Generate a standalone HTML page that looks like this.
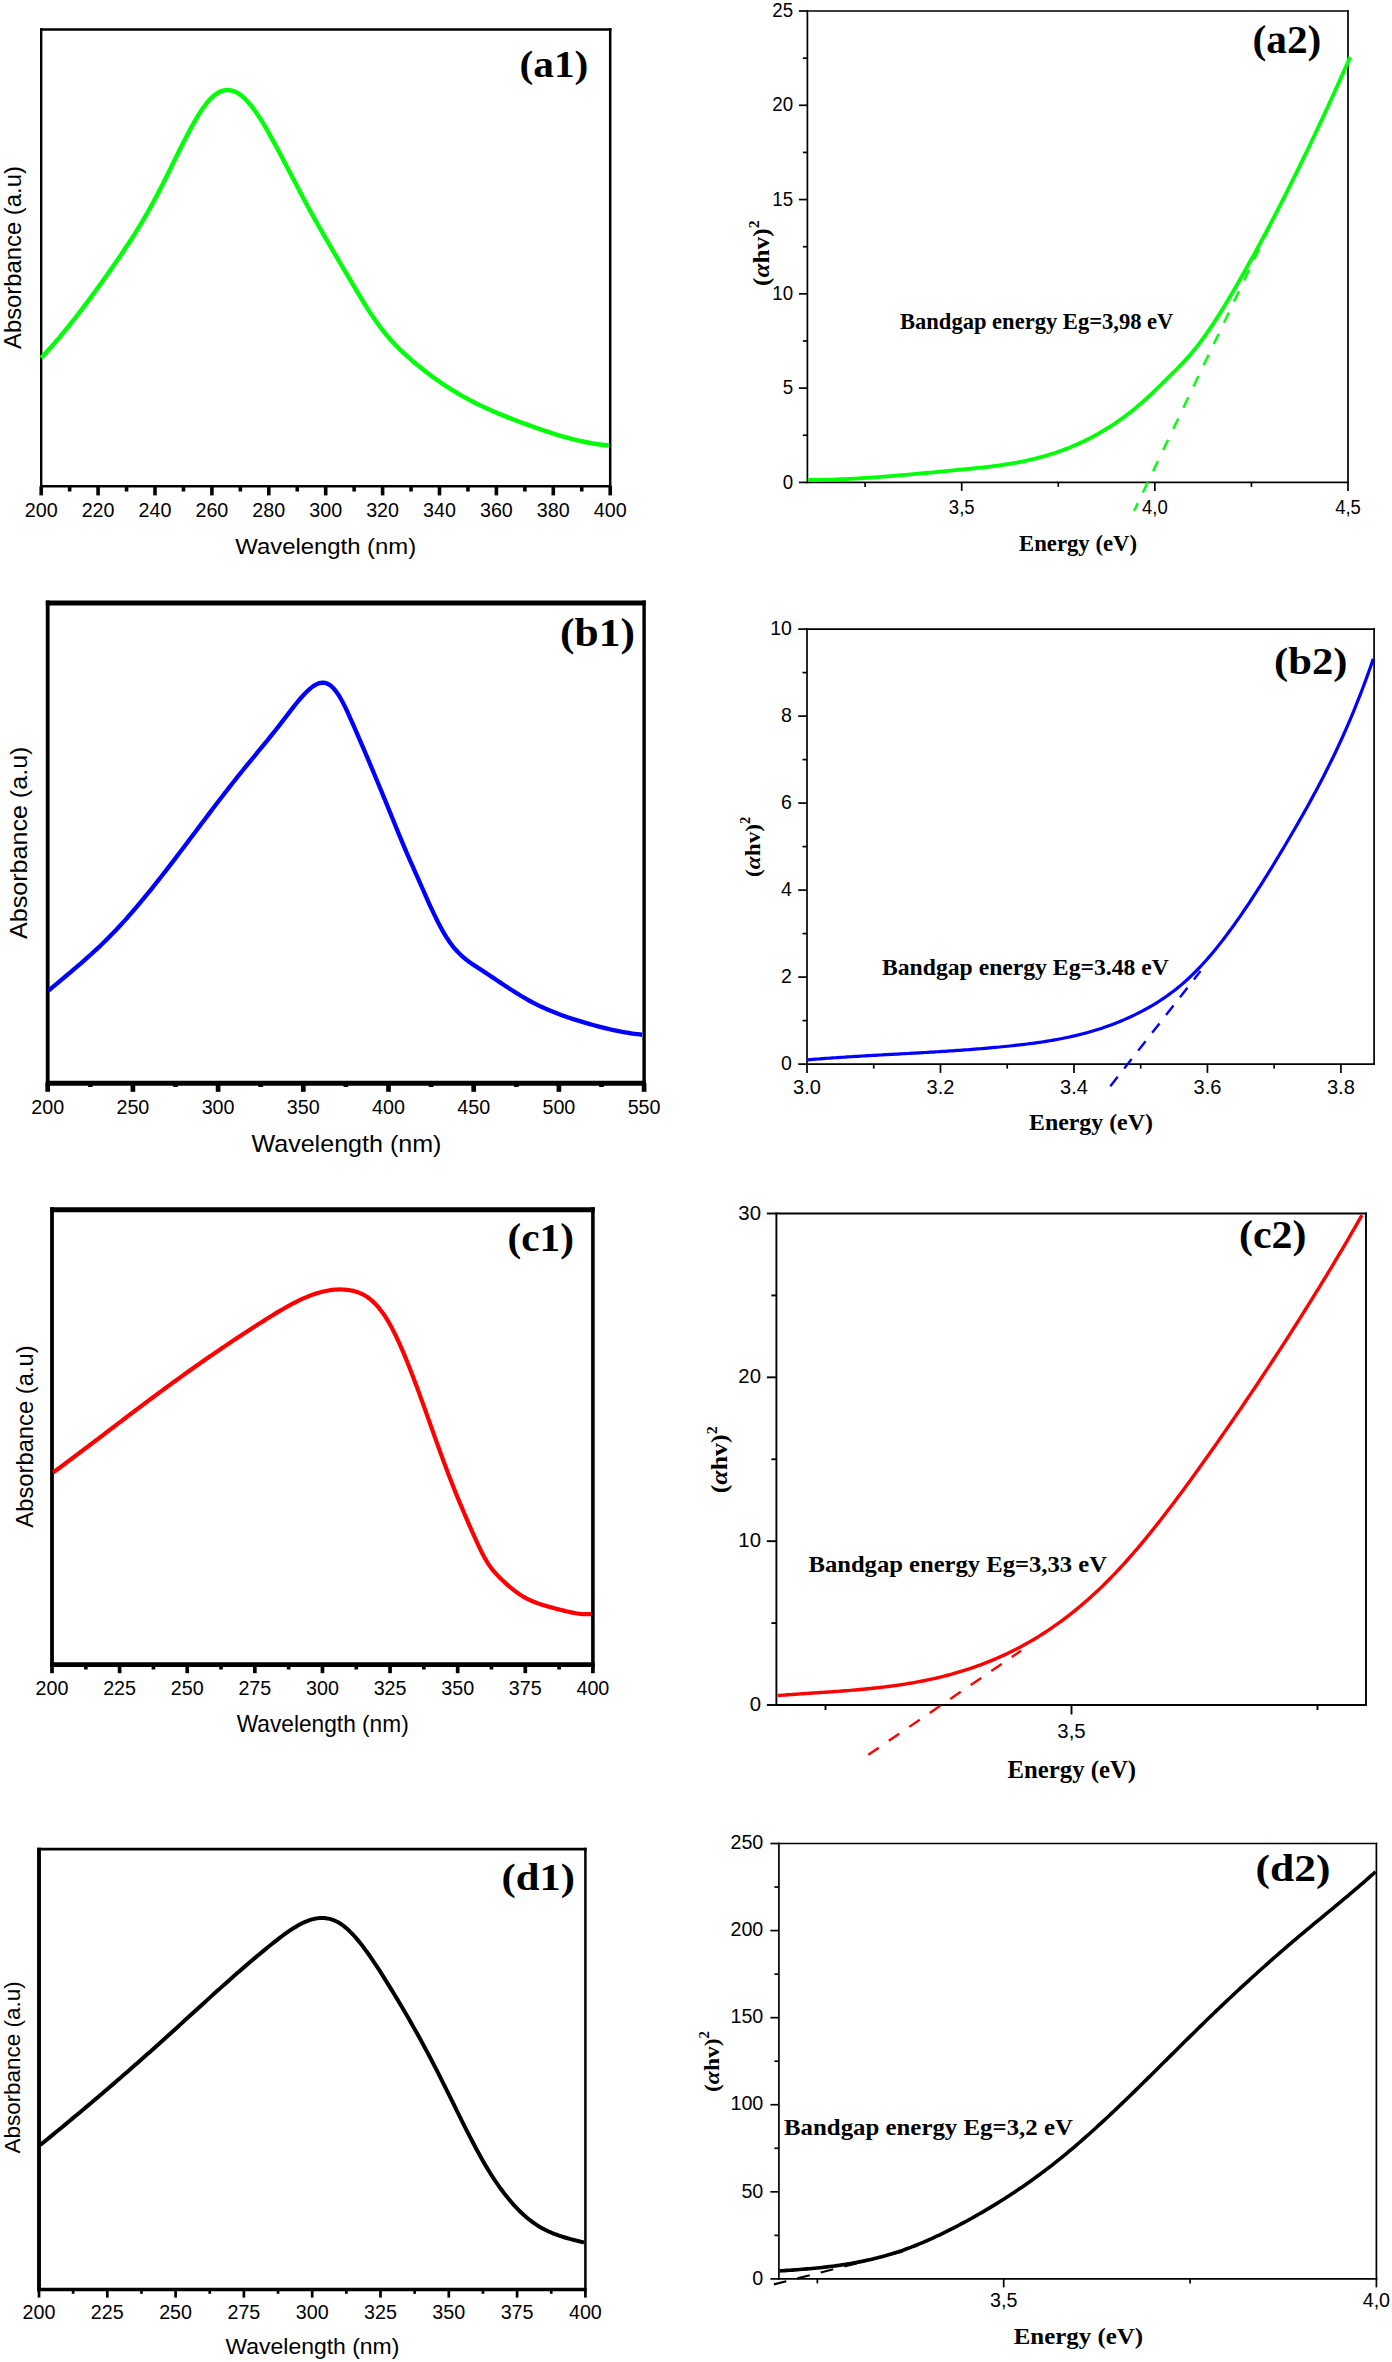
<!DOCTYPE html>
<html><head><meta charset="utf-8"><title>UV-Vis absorbance and Tauc plots</title>
<style>html,body{margin:0;padding:0;background:#fff;}svg{display:block;}</style>
</head><body>
<svg xmlns="http://www.w3.org/2000/svg" width="1392" height="2362" viewBox="0 0 1392 2362">
<rect width="1392" height="2362" fill="#fff"/>
<line x1="41.2" y1="28.15" x2="41.2" y2="487.55" stroke="#000" stroke-width="2.4" stroke-linecap="butt" />
<line x1="610.2" y1="28.15" x2="610.2" y2="487.55" stroke="#000" stroke-width="2.5" stroke-linecap="butt" />
<line x1="40" y1="29.4" x2="611.45" y2="29.4" stroke="#000" stroke-width="2.5" stroke-linecap="butt" />
<line x1="40" y1="486.3" x2="611.45" y2="486.3" stroke="#000" stroke-width="2.5" stroke-linecap="butt" />
<line x1="41.2" y1="486.3" x2="41.2" y2="495.4" stroke="#000" stroke-width="3.6" stroke-linecap="butt" />
<text x="41.2" y="517" font-size="19.7" font-family='"Liberation Sans", sans-serif' text-anchor="middle" >200</text>
<line x1="98.1" y1="486.3" x2="98.1" y2="495.4" stroke="#000" stroke-width="3.6" stroke-linecap="butt" />
<text x="98.1" y="517" font-size="19.7" font-family='"Liberation Sans", sans-serif' text-anchor="middle" >220</text>
<line x1="155" y1="486.3" x2="155" y2="495.4" stroke="#000" stroke-width="3.6" stroke-linecap="butt" />
<text x="155" y="517" font-size="19.7" font-family='"Liberation Sans", sans-serif' text-anchor="middle" >240</text>
<line x1="211.9" y1="486.3" x2="211.9" y2="495.4" stroke="#000" stroke-width="3.6" stroke-linecap="butt" />
<text x="211.9" y="517" font-size="19.7" font-family='"Liberation Sans", sans-serif' text-anchor="middle" >260</text>
<line x1="268.8" y1="486.3" x2="268.8" y2="495.4" stroke="#000" stroke-width="3.6" stroke-linecap="butt" />
<text x="268.8" y="517" font-size="19.7" font-family='"Liberation Sans", sans-serif' text-anchor="middle" >280</text>
<line x1="325.7" y1="486.3" x2="325.7" y2="495.4" stroke="#000" stroke-width="3.6" stroke-linecap="butt" />
<text x="325.7" y="517" font-size="19.7" font-family='"Liberation Sans", sans-serif' text-anchor="middle" >300</text>
<line x1="382.6" y1="486.3" x2="382.6" y2="495.4" stroke="#000" stroke-width="3.6" stroke-linecap="butt" />
<text x="382.6" y="517" font-size="19.7" font-family='"Liberation Sans", sans-serif' text-anchor="middle" >320</text>
<line x1="439.5" y1="486.3" x2="439.5" y2="495.4" stroke="#000" stroke-width="3.6" stroke-linecap="butt" />
<text x="439.5" y="517" font-size="19.7" font-family='"Liberation Sans", sans-serif' text-anchor="middle" >340</text>
<line x1="496.4" y1="486.3" x2="496.4" y2="495.4" stroke="#000" stroke-width="3.6" stroke-linecap="butt" />
<text x="496.4" y="517" font-size="19.7" font-family='"Liberation Sans", sans-serif' text-anchor="middle" >360</text>
<line x1="553.3" y1="486.3" x2="553.3" y2="495.4" stroke="#000" stroke-width="3.6" stroke-linecap="butt" />
<text x="553.3" y="517" font-size="19.7" font-family='"Liberation Sans", sans-serif' text-anchor="middle" >380</text>
<line x1="610.2" y1="486.3" x2="610.2" y2="495.4" stroke="#000" stroke-width="3.6" stroke-linecap="butt" />
<text x="610.2" y="517" font-size="19.7" font-family='"Liberation Sans", sans-serif' text-anchor="middle" >400</text>
<line x1="69.65" y1="486.3" x2="69.65" y2="491.5" stroke="#000" stroke-width="3.6" stroke-linecap="butt" />
<line x1="126.55" y1="486.3" x2="126.55" y2="491.5" stroke="#000" stroke-width="3.6" stroke-linecap="butt" />
<line x1="183.45" y1="486.3" x2="183.45" y2="491.5" stroke="#000" stroke-width="3.6" stroke-linecap="butt" />
<line x1="240.35" y1="486.3" x2="240.35" y2="491.5" stroke="#000" stroke-width="3.6" stroke-linecap="butt" />
<line x1="297.25" y1="486.3" x2="297.25" y2="491.5" stroke="#000" stroke-width="3.6" stroke-linecap="butt" />
<line x1="354.15" y1="486.3" x2="354.15" y2="491.5" stroke="#000" stroke-width="3.6" stroke-linecap="butt" />
<line x1="411.05" y1="486.3" x2="411.05" y2="491.5" stroke="#000" stroke-width="3.6" stroke-linecap="butt" />
<line x1="467.95" y1="486.3" x2="467.95" y2="491.5" stroke="#000" stroke-width="3.6" stroke-linecap="butt" />
<line x1="524.85" y1="486.3" x2="524.85" y2="491.5" stroke="#000" stroke-width="3.6" stroke-linecap="butt" />
<line x1="581.75" y1="486.3" x2="581.75" y2="491.5" stroke="#000" stroke-width="3.6" stroke-linecap="butt" />
<text x="325.75" y="553.91" font-size="22.26" font-family='"Liberation Sans", sans-serif' text-anchor="middle" textLength="180.92" lengthAdjust="spacingAndGlyphs" >Wavelength (nm)</text>
<text x="21.3" y="257.55" font-size="23.6" font-family='"Liberation Sans", sans-serif' text-anchor="middle" textLength="182.92" lengthAdjust="spacingAndGlyphs" transform="rotate(-90 21.3 257.55)" >Absorbance (a.u)</text>
<text x="519.5" y="77.05" font-size="37.99" font-family='"Liberation Serif", serif' text-anchor="start" font-weight="bold" textLength="68.9" lengthAdjust="spacingAndGlyphs" >(a1)</text>
<polyline points="41.2,357.95 43.69,355.28 46.18,352.56 48.67,349.8 51.16,347 53.65,344.15 56.14,341.27 58.63,338.34 61.12,335.37 63.61,332.37 66.09,329.33 68.58,326.26 71.07,323.15 73.56,320 76.05,316.82 78.54,313.61 81.03,310.37 83.52,307.1 86.01,303.8 88.5,300.47 90.99,297.11 93.48,293.73 95.97,290.32 98.46,286.89 100.95,283.43 103.44,279.95 105.93,276.45 108.42,272.93 110.91,269.38 113.39,265.82 115.88,262.24 118.37,258.63 120.86,254.98 123.35,251.3 125.84,247.58 128.33,243.81 130.82,239.98 133.31,236.1 135.8,232.15 138.29,228.13 140.78,224.04 143.27,219.87 145.76,215.62 148.25,211.27 150.74,206.83 153.23,202.29 155.72,197.64 158.21,192.89 160.69,188.06 163.18,183.15 165.67,178.18 168.16,173.16 170.65,168.13 173.14,163.08 175.63,158.03 178.12,153 180.61,148.01 183.1,143.07 185.59,138.19 188.08,133.4 190.57,128.73 193.06,124.21 195.55,119.85 198.04,115.69 200.53,111.76 203.02,108.09 205.51,104.69 207.99,101.6 210.48,98.85 212.97,96.46 215.46,94.45 217.95,92.82 220.44,91.56 222.93,90.68 225.42,90.17 227.91,90.04 230.4,90.27 232.89,90.87 235.38,91.83 237.87,93.15 240.36,94.83 242.85,96.85 245.34,99.18 247.83,101.81 250.32,104.72 252.81,107.88 255.29,111.28 257.78,114.9 260.27,118.72 262.76,122.71 265.25,126.87 267.74,131.16 270.23,135.57 272.72,140.08 275.21,144.67 277.7,149.32 280.19,154.02 282.68,158.74 285.17,163.5 287.66,168.27 290.15,173.04 292.64,177.82 295.13,182.59 297.62,187.35 300.11,192.08 302.59,196.77 305.08,201.43 307.57,206.04 310.06,210.6 312.55,215.12 315.04,219.59 317.53,224.02 320.02,228.41 322.51,232.77 325,237.1 327.49,241.4 329.98,245.68 332.47,249.94 334.96,254.18 337.45,258.4 339.94,262.62 342.43,266.83 344.92,271.03 347.41,275.24 349.89,279.45 352.38,283.65 354.87,287.85 357.36,292.03 359.85,296.16 362.34,300.25 364.83,304.28 367.32,308.23 369.81,312.1 372.3,315.86 374.79,319.52 377.28,323.04 379.77,326.43 382.26,329.69 384.75,332.81 387.24,335.81 389.73,338.7 392.22,341.47 394.71,344.14 397.19,346.72 399.68,349.21 402.17,351.62 404.66,353.96 407.15,356.22 409.64,358.43 412.13,360.59 414.62,362.7 417.11,364.76 419.6,366.8 422.09,368.8 424.58,370.76 427.07,372.68 429.56,374.57 432.05,376.42 434.54,378.24 437.03,380.02 439.52,381.76 442.01,383.47 444.49,385.13 446.98,386.77 449.47,388.36 451.96,389.92 454.45,391.44 456.94,392.93 459.43,394.38 461.92,395.8 464.41,397.19 466.9,398.55 469.39,399.88 471.88,401.18 474.37,402.45 476.86,403.7 479.35,404.92 481.84,406.11 484.33,407.28 486.82,408.43 489.31,409.56 491.79,410.66 494.28,411.74 496.77,412.81 499.26,413.86 501.75,414.89 504.24,415.9 506.73,416.9 509.22,417.88 511.71,418.85 514.2,419.81 516.69,420.75 519.18,421.69 521.67,422.61 524.16,423.53 526.65,424.44 529.14,425.34 531.63,426.23 534.12,427.12 536.61,428 539.09,428.86 541.58,429.72 544.07,430.56 546.56,431.39 549.05,432.21 551.54,433.01 554.03,433.79 556.52,434.56 559.01,435.32 561.5,436.05 563.99,436.77 566.48,437.47 568.97,438.15 571.46,438.8 573.95,439.44 576.44,440.05 578.93,440.63 581.42,441.2 583.91,441.74 586.39,442.25 588.88,442.73 591.37,443.19 593.86,443.62 596.35,444.02 598.84,444.39 601.33,444.72 603.82,445.03 606.31,445.3 608.8,445.54" fill="none" stroke="#00ff08" stroke-width="4.4" stroke-linejoin="round"/>
<line x1="47.7" y1="600.5" x2="47.7" y2="1085.7" stroke="#000" stroke-width="3.8" stroke-linecap="butt" />
<line x1="644.1" y1="600.5" x2="644.1" y2="1085.7" stroke="#000" stroke-width="3.4" stroke-linecap="butt" />
<line x1="45.8" y1="603" x2="645.8" y2="603" stroke="#000" stroke-width="5" stroke-linecap="butt" />
<line x1="45.8" y1="1083.2" x2="645.8" y2="1083.2" stroke="#000" stroke-width="5" stroke-linecap="butt" />
<line x1="47.7" y1="1083.2" x2="47.7" y2="1091.8" stroke="#000" stroke-width="4.7" stroke-linecap="butt" />
<text x="47.7" y="1114.2" font-size="19.7" font-family='"Liberation Sans", sans-serif' text-anchor="middle" >200</text>
<line x1="132.9" y1="1083.2" x2="132.9" y2="1091.8" stroke="#000" stroke-width="4.7" stroke-linecap="butt" />
<text x="132.9" y="1114.2" font-size="19.7" font-family='"Liberation Sans", sans-serif' text-anchor="middle" >250</text>
<line x1="218.1" y1="1083.2" x2="218.1" y2="1091.8" stroke="#000" stroke-width="4.7" stroke-linecap="butt" />
<text x="218.1" y="1114.2" font-size="19.7" font-family='"Liberation Sans", sans-serif' text-anchor="middle" >300</text>
<line x1="303.3" y1="1083.2" x2="303.3" y2="1091.8" stroke="#000" stroke-width="4.7" stroke-linecap="butt" />
<text x="303.3" y="1114.2" font-size="19.7" font-family='"Liberation Sans", sans-serif' text-anchor="middle" >350</text>
<line x1="388.5" y1="1083.2" x2="388.5" y2="1091.8" stroke="#000" stroke-width="4.7" stroke-linecap="butt" />
<text x="388.5" y="1114.2" font-size="19.7" font-family='"Liberation Sans", sans-serif' text-anchor="middle" >400</text>
<line x1="473.7" y1="1083.2" x2="473.7" y2="1091.8" stroke="#000" stroke-width="4.7" stroke-linecap="butt" />
<text x="473.7" y="1114.2" font-size="19.7" font-family='"Liberation Sans", sans-serif' text-anchor="middle" >450</text>
<line x1="558.9" y1="1083.2" x2="558.9" y2="1091.8" stroke="#000" stroke-width="4.7" stroke-linecap="butt" />
<text x="558.9" y="1114.2" font-size="19.7" font-family='"Liberation Sans", sans-serif' text-anchor="middle" >500</text>
<line x1="644.1" y1="1083.2" x2="644.1" y2="1091.8" stroke="#000" stroke-width="4.7" stroke-linecap="butt" />
<text x="644.1" y="1114.2" font-size="19.7" font-family='"Liberation Sans", sans-serif' text-anchor="middle" >550</text>
<line x1="90.3" y1="1083.2" x2="90.3" y2="1087" stroke="#000" stroke-width="4.7" stroke-linecap="butt" />
<line x1="175.5" y1="1083.2" x2="175.5" y2="1087" stroke="#000" stroke-width="4.7" stroke-linecap="butt" />
<line x1="260.7" y1="1083.2" x2="260.7" y2="1087" stroke="#000" stroke-width="4.7" stroke-linecap="butt" />
<line x1="345.9" y1="1083.2" x2="345.9" y2="1087" stroke="#000" stroke-width="4.7" stroke-linecap="butt" />
<line x1="431.1" y1="1083.2" x2="431.1" y2="1087" stroke="#000" stroke-width="4.7" stroke-linecap="butt" />
<line x1="516.3" y1="1083.2" x2="516.3" y2="1087" stroke="#000" stroke-width="4.7" stroke-linecap="butt" />
<line x1="601.5" y1="1083.2" x2="601.5" y2="1087" stroke="#000" stroke-width="4.7" stroke-linecap="butt" />
<text x="346.45" y="1152.4" font-size="24" font-family='"Liberation Sans", sans-serif' text-anchor="middle" textLength="189.94" lengthAdjust="spacingAndGlyphs" >Wavelength (nm)</text>
<text x="26.7" y="842.8" font-size="24.5" font-family='"Liberation Sans", sans-serif' text-anchor="middle" textLength="192.47" lengthAdjust="spacingAndGlyphs" transform="rotate(-90 26.7 842.8)" >Absorbance (a.u)</text>
<text x="560" y="645.53" font-size="39.47" font-family='"Liberation Serif", serif' text-anchor="start" font-weight="bold" textLength="74.9" lengthAdjust="spacingAndGlyphs" >(b1)</text>
<polyline points="48.5,990.66 50.99,988.56 53.49,986.46 55.98,984.37 58.48,982.28 60.97,980.19 63.47,978.1 65.96,976.02 68.46,973.92 70.95,971.82 73.45,969.71 75.94,967.59 78.43,965.45 80.93,963.3 83.42,961.13 85.92,958.94 88.41,956.72 90.91,954.48 93.4,952.21 95.9,949.91 98.39,947.58 100.89,945.22 103.38,942.81 105.87,940.37 108.37,937.89 110.86,935.36 113.36,932.79 115.85,930.18 118.35,927.52 120.84,924.82 123.34,922.09 125.83,919.32 128.33,916.5 130.82,913.66 133.31,910.78 135.81,907.87 138.3,904.92 140.8,901.95 143.29,898.94 145.79,895.91 148.28,892.85 150.78,889.77 153.27,886.66 155.77,883.53 158.26,880.38 160.75,877.21 163.25,874.02 165.74,870.81 168.24,867.59 170.73,864.35 173.23,861.1 175.72,857.83 178.22,854.55 180.71,851.27 183.21,847.97 185.7,844.67 188.19,841.37 190.69,838.06 193.18,834.74 195.68,831.43 198.17,828.11 200.67,824.8 203.16,821.49 205.66,818.18 208.15,814.88 210.64,811.58 213.14,808.3 215.63,805.02 218.13,801.75 220.62,798.5 223.12,795.26 225.61,792.03 228.11,788.83 230.6,785.63 233.1,782.46 235.59,779.31 238.08,776.18 240.58,773.08 243.07,769.99 245.57,766.93 248.06,763.88 250.56,760.83 253.05,757.8 255.55,754.77 258.04,751.74 260.54,748.71 263.03,745.66 265.52,742.61 268.02,739.55 270.51,736.46 273.01,733.36 275.5,730.23 278,727.07 280.49,723.87 282.99,720.65 285.48,717.39 287.98,714.13 290.47,710.88 292.96,707.67 295.46,704.52 297.95,701.46 300.45,698.51 302.94,695.69 305.44,693.02 307.93,690.55 310.43,688.33 312.92,686.41 315.42,684.83 317.91,683.65 320.4,682.91 322.9,682.67 325.39,682.98 327.89,683.88 330.38,685.43 332.88,687.65 335.37,690.51 337.87,693.96 340.36,697.96 342.86,702.45 345.35,707.41 347.84,712.74 350.34,718.29 352.83,723.93 355.33,729.61 357.82,735.34 360.32,741.1 362.81,746.9 365.31,752.75 367.8,758.62 370.3,764.54 372.79,770.48 375.28,776.46 377.78,782.46 380.27,788.5 382.77,794.56 385.26,800.64 387.76,806.75 390.25,812.88 392.75,819.03 395.24,825.19 397.74,831.32 400.23,837.4 402.72,843.42 405.22,849.33 407.71,855.13 410.21,860.84 412.7,866.48 415.2,872.09 417.69,877.7 420.19,883.33 422.68,889 425.18,894.65 427.67,900.26 430.16,905.78 432.66,911.19 435.15,916.43 437.65,921.49 440.14,926.31 442.64,930.87 445.13,935.13 447.63,939.08 450.12,942.71 452.62,946.03 455.11,949.04 457.6,951.79 460.1,954.29 462.59,956.59 465.09,958.7 467.58,960.65 470.08,962.48 472.57,964.21 475.07,965.87 477.56,967.49 480.06,969.1 482.55,970.73 485.04,972.37 487.54,974.02 490.03,975.68 492.53,977.35 495.02,979.02 497.52,980.69 500.01,982.36 502.51,984.02 505,985.68 507.49,987.32 509.99,988.94 512.48,990.55 514.98,992.13 517.47,993.69 519.97,995.22 522.46,996.72 524.96,998.19 527.45,999.61 529.95,1001 532.44,1002.34 534.93,1003.63 537.43,1004.89 539.92,1006.1 542.42,1007.28 544.91,1008.41 547.41,1009.51 549.9,1010.58 552.4,1011.61 554.89,1012.61 557.39,1013.58 559.88,1014.52 562.37,1015.43 564.87,1016.32 567.36,1017.18 569.86,1018.02 572.35,1018.84 574.85,1019.64 577.34,1020.42 579.84,1021.18 582.33,1021.93 584.83,1022.67 587.32,1023.39 589.81,1024.1 592.31,1024.8 594.8,1025.48 597.3,1026.15 599.79,1026.8 602.29,1027.44 604.78,1028.06 607.28,1028.66 609.77,1029.25 612.27,1029.81 614.76,1030.36 617.25,1030.88 619.75,1031.38 622.24,1031.86 624.74,1032.31 627.23,1032.74 629.73,1033.14 632.22,1033.52 634.72,1033.87 637.21,1034.19 639.71,1034.48 642.2,1034.74" fill="none" stroke="#0000ff" stroke-width="4.3" stroke-linejoin="round"/>
<line x1="52" y1="1207.3" x2="52" y2="1666.9" stroke="#000" stroke-width="3.8" stroke-linecap="butt" />
<line x1="592.9" y1="1207.3" x2="592.9" y2="1666.9" stroke="#000" stroke-width="3.6" stroke-linecap="butt" />
<line x1="50.1" y1="1209.8" x2="594.7" y2="1209.8" stroke="#000" stroke-width="5" stroke-linecap="butt" />
<line x1="50.1" y1="1664.6" x2="594.7" y2="1664.6" stroke="#000" stroke-width="4.6" stroke-linecap="butt" />
<line x1="52" y1="1664.6" x2="52" y2="1673.2" stroke="#000" stroke-width="3.7" stroke-linecap="butt" />
<text x="52" y="1695" font-size="19.7" font-family='"Liberation Sans", sans-serif' text-anchor="middle" >200</text>
<line x1="119.61" y1="1664.6" x2="119.61" y2="1673.2" stroke="#000" stroke-width="3.7" stroke-linecap="butt" />
<text x="119.61" y="1695" font-size="19.7" font-family='"Liberation Sans", sans-serif' text-anchor="middle" >225</text>
<line x1="187.22" y1="1664.6" x2="187.22" y2="1673.2" stroke="#000" stroke-width="3.7" stroke-linecap="butt" />
<text x="187.22" y="1695" font-size="19.7" font-family='"Liberation Sans", sans-serif' text-anchor="middle" >250</text>
<line x1="254.84" y1="1664.6" x2="254.84" y2="1673.2" stroke="#000" stroke-width="3.7" stroke-linecap="butt" />
<text x="254.84" y="1695" font-size="19.7" font-family='"Liberation Sans", sans-serif' text-anchor="middle" >275</text>
<line x1="322.45" y1="1664.6" x2="322.45" y2="1673.2" stroke="#000" stroke-width="3.7" stroke-linecap="butt" />
<text x="322.45" y="1695" font-size="19.7" font-family='"Liberation Sans", sans-serif' text-anchor="middle" >300</text>
<line x1="390.06" y1="1664.6" x2="390.06" y2="1673.2" stroke="#000" stroke-width="3.7" stroke-linecap="butt" />
<text x="390.06" y="1695" font-size="19.7" font-family='"Liberation Sans", sans-serif' text-anchor="middle" >325</text>
<line x1="457.68" y1="1664.6" x2="457.68" y2="1673.2" stroke="#000" stroke-width="3.7" stroke-linecap="butt" />
<text x="457.68" y="1695" font-size="19.7" font-family='"Liberation Sans", sans-serif' text-anchor="middle" >350</text>
<line x1="525.29" y1="1664.6" x2="525.29" y2="1673.2" stroke="#000" stroke-width="3.7" stroke-linecap="butt" />
<text x="525.29" y="1695" font-size="19.7" font-family='"Liberation Sans", sans-serif' text-anchor="middle" >375</text>
<line x1="592.9" y1="1664.6" x2="592.9" y2="1673.2" stroke="#000" stroke-width="3.7" stroke-linecap="butt" />
<text x="592.9" y="1695" font-size="19.7" font-family='"Liberation Sans", sans-serif' text-anchor="middle" >400</text>
<line x1="85.81" y1="1664.6" x2="85.81" y2="1669.5" stroke="#000" stroke-width="3.7" stroke-linecap="butt" />
<line x1="153.42" y1="1664.6" x2="153.42" y2="1669.5" stroke="#000" stroke-width="3.7" stroke-linecap="butt" />
<line x1="221.03" y1="1664.6" x2="221.03" y2="1669.5" stroke="#000" stroke-width="3.7" stroke-linecap="butt" />
<line x1="288.64" y1="1664.6" x2="288.64" y2="1669.5" stroke="#000" stroke-width="3.7" stroke-linecap="butt" />
<line x1="356.26" y1="1664.6" x2="356.26" y2="1669.5" stroke="#000" stroke-width="3.7" stroke-linecap="butt" />
<line x1="423.87" y1="1664.6" x2="423.87" y2="1669.5" stroke="#000" stroke-width="3.7" stroke-linecap="butt" />
<line x1="491.48" y1="1664.6" x2="491.48" y2="1669.5" stroke="#000" stroke-width="3.7" stroke-linecap="butt" />
<line x1="559.09" y1="1664.6" x2="559.09" y2="1669.5" stroke="#000" stroke-width="3.7" stroke-linecap="butt" />
<text x="322.75" y="1731.6" font-size="23.4" font-family='"Liberation Sans", sans-serif' text-anchor="middle" textLength="171.9" lengthAdjust="spacingAndGlyphs" >Wavelength (nm)</text>
<text x="32.9" y="1436.5" font-size="23.4" font-family='"Liberation Sans", sans-serif' text-anchor="middle" textLength="182.4" lengthAdjust="spacingAndGlyphs" transform="rotate(-90 32.9 1436.5)" >Absorbance (a.u)</text>
<text x="507.5" y="1250.56" font-size="39.13" font-family='"Liberation Serif", serif' text-anchor="start" font-weight="bold" textLength="66.4" lengthAdjust="spacingAndGlyphs" >(c1)</text>
<polyline points="53.2,1472.45 55.69,1470.62 58.18,1468.79 60.67,1466.95 63.16,1465.1 65.65,1463.25 68.14,1461.39 70.63,1459.53 73.12,1457.67 75.61,1455.8 78.1,1453.92 80.59,1452.05 83.08,1450.17 85.57,1448.29 88.06,1446.4 90.55,1444.52 93.04,1442.63 95.53,1440.74 98.02,1438.85 100.51,1436.96 103,1435.06 105.49,1433.17 107.98,1431.28 110.47,1429.38 112.96,1427.49 115.45,1425.59 117.94,1423.7 120.42,1421.81 122.91,1419.92 125.4,1418.03 127.89,1416.14 130.38,1414.26 132.87,1412.38 135.36,1410.5 137.85,1408.62 140.34,1406.75 142.83,1404.88 145.32,1403.01 147.81,1401.15 150.3,1399.29 152.79,1397.44 155.28,1395.59 157.77,1393.74 160.26,1391.91 162.75,1390.07 165.24,1388.25 167.73,1386.42 170.22,1384.61 172.71,1382.8 175.2,1380.99 177.69,1379.19 180.18,1377.4 182.67,1375.61 185.16,1373.83 187.65,1372.05 190.14,1370.28 192.63,1368.51 195.12,1366.76 197.61,1365 200.1,1363.26 202.59,1361.52 205.08,1359.78 207.57,1358.05 210.06,1356.33 212.55,1354.62 215.04,1352.91 217.53,1351.2 220.02,1349.51 222.51,1347.82 225,1346.13 227.49,1344.45 229.98,1342.78 232.47,1341.12 234.96,1339.46 237.45,1337.81 239.94,1336.17 242.43,1334.53 244.92,1332.9 247.41,1331.28 249.9,1329.66 252.39,1328.05 254.88,1326.45 257.36,1324.85 259.85,1323.26 262.34,1321.68 264.83,1320.11 267.32,1318.54 269.81,1316.98 272.3,1315.44 274.79,1313.91 277.28,1312.4 279.77,1310.91 282.26,1309.44 284.75,1308.01 287.24,1306.6 289.73,1305.23 292.22,1303.89 294.71,1302.59 297.2,1301.34 299.69,1300.13 302.18,1298.97 304.67,1297.86 307.16,1296.81 309.65,1295.81 312.14,1294.88 314.63,1294.01 317.12,1293.2 319.61,1292.47 322.1,1291.81 324.59,1291.22 327.08,1290.71 329.57,1290.29 332.06,1289.95 334.55,1289.7 337.04,1289.54 339.53,1289.47 342.02,1289.5 344.51,1289.63 347,1289.86 349.49,1290.2 351.98,1290.65 354.47,1291.23 356.96,1291.96 359.45,1292.87 361.94,1293.96 364.43,1295.26 366.92,1296.79 369.41,1298.57 371.9,1300.62 374.39,1302.94 376.88,1305.55 379.37,1308.46 381.86,1311.68 384.35,1315.22 386.84,1319.09 389.32,1323.31 391.81,1327.84 394.3,1332.68 396.79,1337.8 399.28,1343.18 401.77,1348.81 404.26,1354.66 406.75,1360.71 409.24,1366.95 411.73,1373.35 414.22,1379.9 416.71,1386.57 419.2,1393.35 421.69,1400.22 424.18,1407.15 426.67,1414.12 429.16,1421.13 431.65,1428.14 434.14,1435.13 436.63,1442.1 439.12,1449.02 441.61,1455.87 444.1,1462.65 446.59,1469.33 449.08,1475.91 451.57,1482.36 454.06,1488.68 456.55,1494.86 459.04,1500.93 461.53,1506.89 464.02,1512.77 466.51,1518.58 469,1524.33 471.49,1530.04 473.98,1535.69 476.47,1541.22 478.96,1546.57 481.45,1551.68 483.94,1556.47 486.43,1560.88 488.92,1564.85 491.41,1568.33 493.9,1571.39 496.39,1574.14 498.88,1576.7 501.37,1579.18 503.86,1581.57 506.35,1583.87 508.84,1586.08 511.33,1588.19 513.82,1590.19 516.31,1592.07 518.8,1593.82 521.29,1595.44 523.77,1596.93 526.26,1598.3 528.75,1599.55 531.24,1600.7 533.73,1601.76 536.22,1602.74 538.71,1603.64 541.2,1604.48 543.69,1605.26 546.18,1606 548.67,1606.7 551.16,1607.38 553.65,1608.04 556.14,1608.7 558.63,1609.35 561.12,1610 563.61,1610.63 566.1,1611.24 568.59,1611.81 571.08,1612.35 573.57,1612.83 576.06,1613.26 578.55,1613.62 581.04,1613.9 583.53,1614.1 586.02,1614.21 588.51,1614.21 591,1614.1" fill="none" stroke="#ff0000" stroke-width="4.2" stroke-linejoin="round"/>
<line x1="39" y1="1847.75" x2="39" y2="2291.3" stroke="#000" stroke-width="3.9" stroke-linecap="butt" />
<line x1="585.4" y1="1847.75" x2="585.4" y2="2291.3" stroke="#000" stroke-width="2.5" stroke-linecap="butt" />
<line x1="37.05" y1="1849.1" x2="586.65" y2="1849.1" stroke="#000" stroke-width="2.7" stroke-linecap="butt" />
<line x1="37.05" y1="2289.5" x2="586.65" y2="2289.5" stroke="#000" stroke-width="3.6" stroke-linecap="butt" />
<line x1="39" y1="2289.5" x2="39" y2="2297.6" stroke="#000" stroke-width="2.7" stroke-linecap="butt" />
<text x="39" y="2319" font-size="19.7" font-family='"Liberation Sans", sans-serif' text-anchor="middle" >200</text>
<line x1="107.3" y1="2289.5" x2="107.3" y2="2297.6" stroke="#000" stroke-width="2.7" stroke-linecap="butt" />
<text x="107.3" y="2319" font-size="19.7" font-family='"Liberation Sans", sans-serif' text-anchor="middle" >225</text>
<line x1="175.6" y1="2289.5" x2="175.6" y2="2297.6" stroke="#000" stroke-width="2.7" stroke-linecap="butt" />
<text x="175.6" y="2319" font-size="19.7" font-family='"Liberation Sans", sans-serif' text-anchor="middle" >250</text>
<line x1="243.9" y1="2289.5" x2="243.9" y2="2297.6" stroke="#000" stroke-width="2.7" stroke-linecap="butt" />
<text x="243.9" y="2319" font-size="19.7" font-family='"Liberation Sans", sans-serif' text-anchor="middle" >275</text>
<line x1="312.2" y1="2289.5" x2="312.2" y2="2297.6" stroke="#000" stroke-width="2.7" stroke-linecap="butt" />
<text x="312.2" y="2319" font-size="19.7" font-family='"Liberation Sans", sans-serif' text-anchor="middle" >300</text>
<line x1="380.5" y1="2289.5" x2="380.5" y2="2297.6" stroke="#000" stroke-width="2.7" stroke-linecap="butt" />
<text x="380.5" y="2319" font-size="19.7" font-family='"Liberation Sans", sans-serif' text-anchor="middle" >325</text>
<line x1="448.8" y1="2289.5" x2="448.8" y2="2297.6" stroke="#000" stroke-width="2.7" stroke-linecap="butt" />
<text x="448.8" y="2319" font-size="19.7" font-family='"Liberation Sans", sans-serif' text-anchor="middle" >350</text>
<line x1="517.1" y1="2289.5" x2="517.1" y2="2297.6" stroke="#000" stroke-width="2.7" stroke-linecap="butt" />
<text x="517.1" y="2319" font-size="19.7" font-family='"Liberation Sans", sans-serif' text-anchor="middle" >375</text>
<line x1="585.4" y1="2289.5" x2="585.4" y2="2297.6" stroke="#000" stroke-width="2.7" stroke-linecap="butt" />
<text x="585.4" y="2319" font-size="19.7" font-family='"Liberation Sans", sans-serif' text-anchor="middle" >400</text>
<line x1="73.15" y1="2289.5" x2="73.15" y2="2293.8" stroke="#000" stroke-width="2.7" stroke-linecap="butt" />
<line x1="141.45" y1="2289.5" x2="141.45" y2="2293.8" stroke="#000" stroke-width="2.7" stroke-linecap="butt" />
<line x1="209.75" y1="2289.5" x2="209.75" y2="2293.8" stroke="#000" stroke-width="2.7" stroke-linecap="butt" />
<line x1="278.05" y1="2289.5" x2="278.05" y2="2293.8" stroke="#000" stroke-width="2.7" stroke-linecap="butt" />
<line x1="346.35" y1="2289.5" x2="346.35" y2="2293.8" stroke="#000" stroke-width="2.7" stroke-linecap="butt" />
<line x1="414.65" y1="2289.5" x2="414.65" y2="2293.8" stroke="#000" stroke-width="2.7" stroke-linecap="butt" />
<line x1="482.95" y1="2289.5" x2="482.95" y2="2293.8" stroke="#000" stroke-width="2.7" stroke-linecap="butt" />
<line x1="551.25" y1="2289.5" x2="551.25" y2="2293.8" stroke="#000" stroke-width="2.7" stroke-linecap="butt" />
<text x="312.45" y="2353.7" font-size="22.5" font-family='"Liberation Sans", sans-serif' text-anchor="middle" textLength="173.85" lengthAdjust="spacingAndGlyphs" >Wavelength (nm)</text>
<text x="20.2" y="2067.4" font-size="22.5" font-family='"Liberation Sans", sans-serif' text-anchor="middle" textLength="172.35" lengthAdjust="spacingAndGlyphs" transform="rotate(-90 20.2 2067.4)" >Absorbance (a.u)</text>
<text x="501.5" y="1890.07" font-size="37.95" font-family='"Liberation Serif", serif' text-anchor="start" font-weight="bold" textLength="73.4" lengthAdjust="spacingAndGlyphs" >(d1)</text>
<polyline points="40.2,2145.01 42.69,2142.99 45.19,2140.96 47.68,2138.93 50.18,2136.9 52.67,2134.86 55.17,2132.82 57.66,2130.77 60.16,2128.72 62.65,2126.67 65.14,2124.61 67.64,2122.54 70.13,2120.48 72.63,2118.4 75.12,2116.33 77.62,2114.24 80.11,2112.16 82.61,2110.07 85.1,2107.97 87.6,2105.87 90.09,2103.77 92.58,2101.66 95.08,2099.55 97.57,2097.43 100.07,2095.31 102.56,2093.18 105.06,2091.05 107.55,2088.92 110.05,2086.78 112.54,2084.63 115.03,2082.48 117.53,2080.33 120.02,2078.17 122.52,2076 125.01,2073.84 127.51,2071.66 130,2069.48 132.5,2067.3 134.99,2065.11 137.49,2062.92 139.98,2060.72 142.47,2058.52 144.97,2056.31 147.46,2054.1 149.96,2051.88 152.45,2049.66 154.95,2047.43 157.44,2045.2 159.94,2042.96 162.43,2040.72 164.92,2038.47 167.42,2036.22 169.91,2033.96 172.41,2031.7 174.9,2029.43 177.4,2027.17 179.89,2024.89 182.39,2022.62 184.88,2020.35 187.38,2018.07 189.87,2015.79 192.36,2013.51 194.86,2011.24 197.35,2008.96 199.85,2006.69 202.34,2004.42 204.84,2002.15 207.33,1999.88 209.83,1997.62 212.32,1995.36 214.81,1993.1 217.31,1990.86 219.8,1988.61 222.3,1986.38 224.79,1984.15 227.29,1981.92 229.78,1979.71 232.28,1977.5 234.77,1975.31 237.27,1973.12 239.76,1970.94 242.25,1968.78 244.75,1966.62 247.24,1964.48 249.74,1962.34 252.23,1960.22 254.73,1958.12 257.22,1956.03 259.72,1953.95 262.21,1951.88 264.7,1949.84 267.2,1947.8 269.69,1945.79 272.19,1943.79 274.68,1941.81 277.18,1939.85 279.67,1937.92 282.17,1936.02 284.66,1934.17 287.16,1932.38 289.65,1930.65 292.14,1929 294.64,1927.42 297.13,1925.94 299.63,1924.55 302.12,1923.28 304.62,1922.12 307.11,1921.08 309.61,1920.19 312.1,1919.43 314.59,1918.82 317.09,1918.38 319.58,1918.11 322.08,1918.01 324.57,1918.11 327.07,1918.4 329.56,1918.89 332.06,1919.6 334.55,1920.53 337.04,1921.69 339.54,1923.09 342.03,1924.74 344.53,1926.62 347.02,1928.72 349.52,1931.04 352.01,1933.54 354.51,1936.24 357,1939.1 359.5,1942.12 361.99,1945.28 364.48,1948.58 366.98,1952 369.47,1955.52 371.97,1959.13 374.46,1962.84 376.96,1966.61 379.45,1970.46 381.95,1974.37 384.44,1978.33 386.93,1982.32 389.43,1986.36 391.92,1990.42 394.42,1994.52 396.91,1998.65 399.41,2002.81 401.9,2007.01 404.4,2011.25 406.89,2015.53 409.39,2019.85 411.88,2024.21 414.37,2028.61 416.87,2033.06 419.36,2037.55 421.86,2042.1 424.35,2046.69 426.85,2051.33 429.34,2056.02 431.84,2060.76 434.33,2065.57 436.82,2070.42 439.32,2075.33 441.81,2080.29 444.31,2085.28 446.8,2090.31 449.3,2095.36 451.79,2100.41 454.29,2105.48 456.78,2110.53 459.28,2115.58 461.77,2120.6 464.26,2125.59 466.76,2130.53 469.25,2135.43 471.75,2140.27 474.24,2145.04 476.74,2149.72 479.23,2154.31 481.73,2158.79 484.22,2163.15 486.71,2167.38 489.21,2171.48 491.7,2175.45 494.2,2179.29 496.69,2183 499.19,2186.57 501.68,2190.02 504.18,2193.34 506.67,2196.52 509.17,2199.58 511.66,2202.51 514.15,2205.32 516.65,2207.99 519.14,2210.54 521.64,2212.97 524.13,2215.27 526.63,2217.44 529.12,2219.49 531.62,2221.41 534.11,2223.21 536.6,2224.89 539.1,2226.45 541.59,2227.9 544.09,2229.26 546.58,2230.52 549.08,2231.69 551.57,2232.77 554.07,2233.79 556.56,2234.73 559.06,2235.62 561.55,2236.44 564.04,2237.22 566.54,2237.96 569.03,2238.66 571.53,2239.33 574.02,2239.98 576.52,2240.62 579.01,2241.24 581.51,2241.87 584,2242.49" fill="none" stroke="#000" stroke-width="4" stroke-linejoin="round"/>
<line x1="807.4" y1="10.15" x2="807.4" y2="483.25" stroke="#000" stroke-width="1.7" stroke-linecap="butt" />
<line x1="1348" y1="10.15" x2="1348" y2="483.25" stroke="#000" stroke-width="1.7" stroke-linecap="butt" />
<line x1="806.55" y1="11" x2="1348.85" y2="11" stroke="#000" stroke-width="1.7" stroke-linecap="butt" />
<line x1="806.55" y1="482.4" x2="1348.85" y2="482.4" stroke="#000" stroke-width="1.7" stroke-linecap="butt" />
<line x1="798.9" y1="482.4" x2="807.4" y2="482.4" stroke="#000" stroke-width="1.7" stroke-linecap="butt" />
<text transform="translate(793.1 488.52) scale(0.89 1)" font-size="21" font-family='"Liberation Sans", sans-serif' text-anchor="end">0</text>
<line x1="798.9" y1="388.12" x2="807.4" y2="388.12" stroke="#000" stroke-width="1.7" stroke-linecap="butt" />
<text transform="translate(793.1 394.24) scale(0.89 1)" font-size="21" font-family='"Liberation Sans", sans-serif' text-anchor="end">5</text>
<line x1="798.9" y1="293.84" x2="807.4" y2="293.84" stroke="#000" stroke-width="1.7" stroke-linecap="butt" />
<text transform="translate(793.1 299.96) scale(0.89 1)" font-size="21" font-family='"Liberation Sans", sans-serif' text-anchor="end">10</text>
<line x1="798.9" y1="199.56" x2="807.4" y2="199.56" stroke="#000" stroke-width="1.7" stroke-linecap="butt" />
<text transform="translate(793.1 205.68) scale(0.89 1)" font-size="21" font-family='"Liberation Sans", sans-serif' text-anchor="end">15</text>
<line x1="798.9" y1="105.28" x2="807.4" y2="105.28" stroke="#000" stroke-width="1.7" stroke-linecap="butt" />
<text transform="translate(793.1 111.4) scale(0.89 1)" font-size="21" font-family='"Liberation Sans", sans-serif' text-anchor="end">20</text>
<line x1="798.9" y1="11" x2="807.4" y2="11" stroke="#000" stroke-width="1.7" stroke-linecap="butt" />
<text transform="translate(793.1 17.12) scale(0.89 1)" font-size="21" font-family='"Liberation Sans", sans-serif' text-anchor="end">25</text>
<line x1="802.9" y1="435.26" x2="807.4" y2="435.26" stroke="#000" stroke-width="1.7" stroke-linecap="butt" />
<line x1="802.9" y1="340.98" x2="807.4" y2="340.98" stroke="#000" stroke-width="1.7" stroke-linecap="butt" />
<line x1="802.9" y1="246.7" x2="807.4" y2="246.7" stroke="#000" stroke-width="1.7" stroke-linecap="butt" />
<line x1="802.9" y1="152.42" x2="807.4" y2="152.42" stroke="#000" stroke-width="1.7" stroke-linecap="butt" />
<line x1="802.9" y1="58.14" x2="807.4" y2="58.14" stroke="#000" stroke-width="1.7" stroke-linecap="butt" />
<line x1="961.7" y1="482.4" x2="961.7" y2="490.9" stroke="#000" stroke-width="1.7" stroke-linecap="butt" />
<text transform="translate(961.7 513.9) scale(0.89 1)" font-size="20.8" font-family='"Liberation Sans", sans-serif' text-anchor="middle">3,5</text>
<line x1="1154.85" y1="482.4" x2="1154.85" y2="490.9" stroke="#000" stroke-width="1.7" stroke-linecap="butt" />
<text transform="translate(1154.85 513.9) scale(0.89 1)" font-size="20.8" font-family='"Liberation Sans", sans-serif' text-anchor="middle">4,0</text>
<line x1="1348" y1="482.4" x2="1348" y2="490.9" stroke="#000" stroke-width="1.7" stroke-linecap="butt" />
<text transform="translate(1348 513.9) scale(0.89 1)" font-size="20.8" font-family='"Liberation Sans", sans-serif' text-anchor="middle">4,5</text>
<line x1="865.12" y1="482.4" x2="865.12" y2="486.9" stroke="#000" stroke-width="1.7" stroke-linecap="butt" />
<line x1="1058.28" y1="482.4" x2="1058.28" y2="486.9" stroke="#000" stroke-width="1.7" stroke-linecap="butt" />
<line x1="1251.43" y1="482.4" x2="1251.43" y2="486.9" stroke="#000" stroke-width="1.7" stroke-linecap="butt" />
<text x="1078.05" y="551.1" font-size="23.5" font-family='"Liberation Serif", serif' text-anchor="middle" font-weight="bold" textLength="117.91" lengthAdjust="spacingAndGlyphs" >Energy (eV)</text>
<text font-size="23" font-family='"Liberation Serif", serif' font-weight="bold" text-anchor="middle" transform="translate(769.1 253.2) rotate(-90) scale(1.1000 1)">(<tspan font-style="italic">&#945;</tspan>hv)<tspan font-size="14.26" dy="-10.35">2</tspan></text>
<text x="900" y="328.9" font-size="23" font-family='"Liberation Serif", serif' text-anchor="start" font-weight="bold" textLength="273.38" lengthAdjust="spacingAndGlyphs" >Bandgap energy Eg=3,98 eV</text>
<text x="1252.5" y="53.11" font-size="39.68" font-family='"Liberation Serif", serif' text-anchor="start" font-weight="bold" textLength="68.9" lengthAdjust="spacingAndGlyphs" >(a2)</text>
<line x1="1134" y1="511.1" x2="1272" y2="222" stroke="#00ff08" stroke-width="2.4" stroke-dasharray="11.5 12" stroke-dashoffset="2.9"/>
<polyline points="808.3,479.87 810.8,479.87 813.29,479.87 815.79,479.86 818.29,479.84 820.79,479.81 823.28,479.77 825.78,479.72 828.28,479.66 830.78,479.6 833.27,479.53 835.77,479.45 838.27,479.36 840.76,479.26 843.26,479.16 845.76,479.05 848.26,478.94 850.75,478.82 853.25,478.69 855.75,478.55 858.24,478.41 860.74,478.26 863.24,478.11 865.74,477.95 868.23,477.79 870.73,477.62 873.23,477.45 875.73,477.27 878.22,477.08 880.72,476.9 883.22,476.7 885.71,476.51 888.21,476.31 890.71,476.11 893.21,475.9 895.7,475.69 898.2,475.48 900.7,475.26 903.19,475.04 905.69,474.82 908.19,474.6 910.69,474.37 913.18,474.15 915.68,473.92 918.18,473.69 920.68,473.45 923.17,473.22 925.67,472.99 928.17,472.75 930.66,472.52 933.16,472.28 935.66,472.04 938.16,471.81 940.65,471.57 943.15,471.34 945.65,471.1 948.15,470.87 950.64,470.63 953.14,470.4 955.64,470.17 958.13,469.93 960.63,469.7 963.13,469.46 965.63,469.22 968.12,468.98 970.62,468.74 973.12,468.49 975.61,468.23 978.11,467.97 980.61,467.7 983.11,467.42 985.6,467.14 988.1,466.84 990.6,466.54 993.1,466.22 995.59,465.89 998.09,465.55 1000.59,465.2 1003.08,464.84 1005.58,464.46 1008.08,464.06 1010.58,463.65 1013.07,463.22 1015.57,462.77 1018.07,462.31 1020.56,461.83 1023.06,461.33 1025.56,460.8 1028.06,460.26 1030.55,459.7 1033.05,459.11 1035.55,458.5 1038.05,457.86 1040.54,457.2 1043.04,456.52 1045.54,455.81 1048.03,455.07 1050.53,454.3 1053.03,453.51 1055.53,452.69 1058.02,451.85 1060.52,450.97 1063.02,450.06 1065.52,449.12 1068.01,448.15 1070.51,447.15 1073.01,446.12 1075.5,445.05 1078,443.96 1080.5,442.82 1083,441.66 1085.49,440.45 1087.99,439.21 1090.49,437.94 1092.98,436.63 1095.48,435.28 1097.98,433.89 1100.48,432.47 1102.97,431 1105.47,429.5 1107.97,427.95 1110.47,426.37 1112.96,424.74 1115.46,423.07 1117.96,421.36 1120.45,419.6 1122.95,417.8 1125.45,415.96 1127.95,414.07 1130.44,412.13 1132.94,410.15 1135.44,408.12 1137.94,406.04 1140.43,403.92 1142.93,401.75 1145.43,399.53 1147.92,397.25 1150.42,394.93 1152.92,392.56 1155.42,390.16 1157.91,387.72 1160.41,385.26 1162.91,382.79 1165.4,380.32 1167.9,377.85 1170.4,375.4 1172.9,372.95 1175.39,370.48 1177.89,367.98 1180.39,365.43 1182.89,362.82 1185.38,360.14 1187.88,357.38 1190.38,354.54 1192.87,351.59 1195.37,348.54 1197.87,345.38 1200.37,342.11 1202.86,338.74 1205.36,335.27 1207.86,331.71 1210.35,328.06 1212.85,324.32 1215.35,320.51 1217.85,316.62 1220.34,312.66 1222.84,308.64 1225.34,304.55 1227.84,300.41 1230.33,296.22 1232.83,291.98 1235.33,287.7 1237.82,283.38 1240.32,279.02 1242.82,274.63 1245.32,270.21 1247.81,265.76 1250.31,261.28 1252.81,256.76 1255.31,252.21 1257.8,247.62 1260.3,243.01 1262.8,238.36 1265.29,233.68 1267.79,228.97 1270.29,224.23 1272.79,219.46 1275.28,214.66 1277.78,209.82 1280.28,204.96 1282.77,200.06 1285.27,195.13 1287.77,190.18 1290.27,185.19 1292.76,180.18 1295.26,175.13 1297.76,170.06 1300.26,164.96 1302.75,159.82 1305.25,154.66 1307.75,149.47 1310.24,144.25 1312.74,139.01 1315.24,133.73 1317.74,128.43 1320.23,123.1 1322.73,117.74 1325.23,112.35 1327.72,106.94 1330.22,101.5 1332.72,96.04 1335.22,90.54 1337.71,85.02 1340.21,79.48 1342.71,73.9 1345.21,68.31 1347.7,62.68 1350.2,57.03" fill="none" stroke="#00ff08" stroke-width="3.8" stroke-linejoin="round"/>
<line x1="807" y1="628.25" x2="807" y2="1064.95" stroke="#000" stroke-width="1.7" stroke-linecap="butt" />
<line x1="1374.1" y1="628.25" x2="1374.1" y2="1064.95" stroke="#000" stroke-width="1.7" stroke-linecap="butt" />
<line x1="806.15" y1="629.1" x2="1374.95" y2="629.1" stroke="#000" stroke-width="1.7" stroke-linecap="butt" />
<line x1="806.15" y1="1064.1" x2="1374.95" y2="1064.1" stroke="#000" stroke-width="1.7" stroke-linecap="butt" />
<line x1="798.2" y1="1064.1" x2="807" y2="1064.1" stroke="#000" stroke-width="1.7" stroke-linecap="butt" />
<text x="791.9" y="1069.71" font-size="19.5" font-family='"Liberation Sans", sans-serif' text-anchor="end">0</text>
<line x1="798.2" y1="977.1" x2="807" y2="977.1" stroke="#000" stroke-width="1.7" stroke-linecap="butt" />
<text x="791.9" y="982.71" font-size="19.5" font-family='"Liberation Sans", sans-serif' text-anchor="end">2</text>
<line x1="798.2" y1="890.1" x2="807" y2="890.1" stroke="#000" stroke-width="1.7" stroke-linecap="butt" />
<text x="791.9" y="895.71" font-size="19.5" font-family='"Liberation Sans", sans-serif' text-anchor="end">4</text>
<line x1="798.2" y1="803.1" x2="807" y2="803.1" stroke="#000" stroke-width="1.7" stroke-linecap="butt" />
<text x="791.9" y="808.71" font-size="19.5" font-family='"Liberation Sans", sans-serif' text-anchor="end">6</text>
<line x1="798.2" y1="716.1" x2="807" y2="716.1" stroke="#000" stroke-width="1.7" stroke-linecap="butt" />
<text x="791.9" y="721.71" font-size="19.5" font-family='"Liberation Sans", sans-serif' text-anchor="end">8</text>
<line x1="798.2" y1="629.1" x2="807" y2="629.1" stroke="#000" stroke-width="1.7" stroke-linecap="butt" />
<text x="791.9" y="634.71" font-size="19.5" font-family='"Liberation Sans", sans-serif' text-anchor="end">10</text>
<line x1="802.5" y1="1020.6" x2="807" y2="1020.6" stroke="#000" stroke-width="1.7" stroke-linecap="butt" />
<line x1="802.5" y1="933.6" x2="807" y2="933.6" stroke="#000" stroke-width="1.7" stroke-linecap="butt" />
<line x1="802.5" y1="846.6" x2="807" y2="846.6" stroke="#000" stroke-width="1.7" stroke-linecap="butt" />
<line x1="802.5" y1="759.6" x2="807" y2="759.6" stroke="#000" stroke-width="1.7" stroke-linecap="butt" />
<line x1="802.5" y1="672.6" x2="807" y2="672.6" stroke="#000" stroke-width="1.7" stroke-linecap="butt" />
<line x1="807" y1="1064.1" x2="807" y2="1072.9" stroke="#000" stroke-width="1.7" stroke-linecap="butt" />
<text x="807" y="1093.6" font-size="20" font-family='"Liberation Sans", sans-serif' text-anchor="middle">3.0</text>
<line x1="940.48" y1="1064.1" x2="940.48" y2="1072.9" stroke="#000" stroke-width="1.7" stroke-linecap="butt" />
<text x="940.48" y="1093.6" font-size="20" font-family='"Liberation Sans", sans-serif' text-anchor="middle">3.2</text>
<line x1="1073.96" y1="1064.1" x2="1073.96" y2="1072.9" stroke="#000" stroke-width="1.7" stroke-linecap="butt" />
<text x="1073.96" y="1093.6" font-size="20" font-family='"Liberation Sans", sans-serif' text-anchor="middle">3.4</text>
<line x1="1207.44" y1="1064.1" x2="1207.44" y2="1072.9" stroke="#000" stroke-width="1.7" stroke-linecap="butt" />
<text x="1207.44" y="1093.6" font-size="20" font-family='"Liberation Sans", sans-serif' text-anchor="middle">3.6</text>
<line x1="1340.92" y1="1064.1" x2="1340.92" y2="1072.9" stroke="#000" stroke-width="1.7" stroke-linecap="butt" />
<text x="1340.92" y="1093.6" font-size="20" font-family='"Liberation Sans", sans-serif' text-anchor="middle">3.8</text>
<line x1="873.74" y1="1064.1" x2="873.74" y2="1068.6" stroke="#000" stroke-width="1.7" stroke-linecap="butt" />
<line x1="1007.22" y1="1064.1" x2="1007.22" y2="1068.6" stroke="#000" stroke-width="1.7" stroke-linecap="butt" />
<line x1="1140.7" y1="1064.1" x2="1140.7" y2="1068.6" stroke="#000" stroke-width="1.7" stroke-linecap="butt" />
<line x1="1274.18" y1="1064.1" x2="1274.18" y2="1068.6" stroke="#000" stroke-width="1.7" stroke-linecap="butt" />
<text x="1090.95" y="1129.6" font-size="23.5" font-family='"Liberation Serif", serif' text-anchor="middle" font-weight="bold" textLength="123.91" lengthAdjust="spacingAndGlyphs" >Energy (eV)</text>
<text font-size="22" font-family='"Liberation Serif", serif' font-weight="bold" text-anchor="middle" transform="translate(759.8 846.8) rotate(-90) scale(1.0600 1)">(<tspan font-style="italic">&#945;</tspan>hv)<tspan font-size="13.64" dy="-9.9">2</tspan></text>
<text x="882" y="974.5" font-size="22.5" font-family='"Liberation Serif", serif' text-anchor="start" font-weight="bold" textLength="286.85" lengthAdjust="spacingAndGlyphs" >Bandgap energy Eg=3.48 eV</text>
<text x="1274" y="674.24" font-size="38.37" font-family='"Liberation Serif", serif' text-anchor="start" font-weight="bold" textLength="73.4" lengthAdjust="spacingAndGlyphs" >(b2)</text>
<line x1="1110.3" y1="1086.2" x2="1200.5" y2="971.1" stroke="#0000ff" stroke-width="2.4" stroke-dasharray="12 10.6"/>
<polyline points="808,1059.82 810.49,1059.61 812.98,1059.41 815.47,1059.21 817.96,1059.01 820.45,1058.82 822.94,1058.63 825.43,1058.45 827.92,1058.26 830.41,1058.09 832.9,1057.91 835.39,1057.74 837.88,1057.57 840.37,1057.4 842.86,1057.23 845.35,1057.07 847.84,1056.91 850.34,1056.76 852.83,1056.6 855.32,1056.45 857.81,1056.29 860.3,1056.15 862.79,1056 865.28,1055.85 867.77,1055.71 870.26,1055.56 872.75,1055.42 875.24,1055.28 877.73,1055.14 880.22,1055 882.71,1054.86 885.2,1054.72 887.69,1054.58 890.18,1054.45 892.67,1054.31 895.16,1054.17 897.65,1054.04 900.14,1053.9 902.63,1053.76 905.12,1053.62 907.61,1053.49 910.1,1053.35 912.59,1053.21 915.08,1053.07 917.57,1052.93 920.06,1052.79 922.55,1052.64 925.04,1052.5 927.53,1052.35 930.03,1052.21 932.52,1052.06 935.01,1051.91 937.5,1051.75 939.99,1051.6 942.48,1051.44 944.97,1051.28 947.46,1051.12 949.95,1050.96 952.44,1050.79 954.93,1050.62 957.42,1050.45 959.91,1050.28 962.4,1050.1 964.89,1049.92 967.38,1049.74 969.87,1049.55 972.36,1049.36 974.85,1049.16 977.34,1048.96 979.83,1048.76 982.32,1048.56 984.81,1048.35 987.3,1048.13 989.79,1047.91 992.28,1047.69 994.77,1047.46 997.26,1047.23 999.75,1046.99 1002.24,1046.75 1004.73,1046.5 1007.22,1046.25 1009.71,1045.99 1012.21,1045.73 1014.7,1045.46 1017.19,1045.19 1019.68,1044.9 1022.17,1044.61 1024.66,1044.32 1027.15,1044.01 1029.64,1043.7 1032.13,1043.37 1034.62,1043.04 1037.11,1042.69 1039.6,1042.33 1042.09,1041.96 1044.58,1041.58 1047.07,1041.19 1049.56,1040.78 1052.05,1040.36 1054.54,1039.92 1057.03,1039.47 1059.52,1039.01 1062.01,1038.52 1064.5,1038.03 1066.99,1037.51 1069.48,1036.97 1071.97,1036.42 1074.46,1035.85 1076.95,1035.26 1079.44,1034.65 1081.93,1034.02 1084.42,1033.37 1086.91,1032.69 1089.4,1032 1091.9,1031.28 1094.39,1030.54 1096.88,1029.77 1099.37,1028.99 1101.86,1028.17 1104.35,1027.33 1106.84,1026.47 1109.33,1025.58 1111.82,1024.66 1114.31,1023.71 1116.8,1022.74 1119.29,1021.74 1121.78,1020.7 1124.27,1019.64 1126.76,1018.55 1129.25,1017.43 1131.74,1016.28 1134.23,1015.09 1136.72,1013.87 1139.21,1012.62 1141.7,1011.34 1144.19,1010.02 1146.68,1008.66 1149.17,1007.26 1151.66,1005.82 1154.15,1004.34 1156.64,1002.81 1159.13,1001.23 1161.62,999.61 1164.11,997.93 1166.6,996.2 1169.09,994.42 1171.59,992.58 1174.08,990.68 1176.57,988.73 1179.06,986.71 1181.55,984.63 1184.04,982.48 1186.53,980.27 1189.02,977.98 1191.51,975.63 1194,973.2 1196.49,970.7 1198.98,968.13 1201.47,965.48 1203.96,962.76 1206.45,959.97 1208.94,957.12 1211.43,954.2 1213.92,951.21 1216.41,948.16 1218.9,945.05 1221.39,941.88 1223.88,938.65 1226.37,935.37 1228.86,932.03 1231.35,928.63 1233.84,925.19 1236.33,921.69 1238.82,918.15 1241.31,914.56 1243.8,910.92 1246.29,907.24 1248.78,903.52 1251.27,899.75 1253.77,895.95 1256.26,892.11 1258.75,888.23 1261.24,884.31 1263.73,880.36 1266.22,876.38 1268.71,872.36 1271.2,868.32 1273.69,864.25 1276.18,860.15 1278.67,856.02 1281.16,851.87 1283.65,847.7 1286.14,843.51 1288.63,839.29 1291.12,835.05 1293.61,830.78 1296.1,826.47 1298.59,822.14 1301.08,817.77 1303.57,813.36 1306.06,808.91 1308.55,804.42 1311.04,799.88 1313.53,795.3 1316.02,790.67 1318.51,785.98 1321,781.23 1323.49,776.42 1325.98,771.54 1328.47,766.59 1330.96,761.55 1333.46,756.43 1335.95,751.22 1338.44,745.91 1340.93,740.51 1343.42,735 1345.91,729.38 1348.4,723.64 1350.89,717.79 1353.38,711.81 1355.87,705.7 1358.36,699.45 1360.85,693.07 1363.34,686.54 1365.83,679.86 1368.32,673.02 1370.81,666.03 1373.3,658.87" fill="none" stroke="#0000ff" stroke-width="3.2" stroke-linejoin="round"/>
<line x1="776.4" y1="1212.55" x2="776.4" y2="1705.95" stroke="#000" stroke-width="1.9" stroke-linecap="butt" />
<line x1="1366" y1="1212.55" x2="1366" y2="1705.95" stroke="#000" stroke-width="1.9" stroke-linecap="butt" />
<line x1="775.45" y1="1213.5" x2="1366.95" y2="1213.5" stroke="#000" stroke-width="1.9" stroke-linecap="butt" />
<line x1="775.45" y1="1705" x2="1366.95" y2="1705" stroke="#000" stroke-width="1.9" stroke-linecap="butt" />
<line x1="766.9" y1="1705" x2="776.4" y2="1705" stroke="#000" stroke-width="1.9" stroke-linecap="butt" />
<text transform="translate(761 1711.12) scale(0.97 1)" font-size="21" font-family='"Liberation Sans", sans-serif' text-anchor="end">0</text>
<line x1="766.9" y1="1541.17" x2="776.4" y2="1541.17" stroke="#000" stroke-width="1.9" stroke-linecap="butt" />
<text transform="translate(761 1547.29) scale(0.97 1)" font-size="21" font-family='"Liberation Sans", sans-serif' text-anchor="end">10</text>
<line x1="766.9" y1="1377.34" x2="776.4" y2="1377.34" stroke="#000" stroke-width="1.9" stroke-linecap="butt" />
<text transform="translate(761 1383.46) scale(0.97 1)" font-size="21" font-family='"Liberation Sans", sans-serif' text-anchor="end">20</text>
<line x1="766.9" y1="1213.51" x2="776.4" y2="1213.51" stroke="#000" stroke-width="1.9" stroke-linecap="butt" />
<text transform="translate(761 1219.63) scale(0.97 1)" font-size="21" font-family='"Liberation Sans", sans-serif' text-anchor="end">30</text>
<line x1="771.4" y1="1623.09" x2="776.4" y2="1623.09" stroke="#000" stroke-width="1.9" stroke-linecap="butt" />
<line x1="771.4" y1="1459.26" x2="776.4" y2="1459.26" stroke="#000" stroke-width="1.9" stroke-linecap="butt" />
<line x1="771.4" y1="1295.42" x2="776.4" y2="1295.42" stroke="#000" stroke-width="1.9" stroke-linecap="butt" />
<line x1="1071.5" y1="1705" x2="1071.5" y2="1714.5" stroke="#000" stroke-width="1.9" stroke-linecap="butt" />
<text transform="translate(1071.5 1737.5) scale(0.97 1)" font-size="21" font-family='"Liberation Sans", sans-serif' text-anchor="middle">3,5</text>
<line x1="825.5" y1="1705" x2="825.5" y2="1710" stroke="#000" stroke-width="1.9" stroke-linecap="butt" />
<line x1="1317.5" y1="1705" x2="1317.5" y2="1710" stroke="#000" stroke-width="1.9" stroke-linecap="butt" />
<text x="1071.8" y="1777.5" font-size="24.5" font-family='"Liberation Serif", serif' text-anchor="middle" font-weight="bold" textLength="128.47" lengthAdjust="spacingAndGlyphs" >Energy (eV)</text>
<text font-size="24" font-family='"Liberation Serif", serif' font-weight="bold" text-anchor="middle" transform="translate(727.4 1459.8) rotate(-90) scale(1.0800 1)">(<tspan font-style="italic">&#945;</tspan>hv)<tspan font-size="14.88" dy="-10.8">2</tspan></text>
<text x="808.5" y="1571.6" font-size="24" font-family='"Liberation Serif", serif' text-anchor="start" font-weight="bold" textLength="298.44" lengthAdjust="spacingAndGlyphs" >Bandgap energy Eg=3,33 eV</text>
<text x="1239" y="1247.6" font-size="39.13" font-family='"Liberation Serif", serif' text-anchor="start" font-weight="bold" textLength="67.4" lengthAdjust="spacingAndGlyphs" >(c2)</text>
<line x1="868.3" y1="1754.8" x2="1021" y2="1650.8" stroke="#ff0000" stroke-width="2.4" stroke-dasharray="12.6 12.2"/>
<polyline points="777.8,1695.56 780.3,1695.36 782.79,1695.17 785.29,1694.98 787.79,1694.79 790.28,1694.61 792.78,1694.43 795.28,1694.26 797.77,1694.08 800.27,1693.91 802.77,1693.74 805.26,1693.57 807.76,1693.4 810.26,1693.24 812.75,1693.07 815.25,1692.9 817.75,1692.74 820.24,1692.57 822.74,1692.4 825.24,1692.23 827.73,1692.06 830.23,1691.89 832.72,1691.71 835.22,1691.53 837.72,1691.35 840.21,1691.16 842.71,1690.98 845.21,1690.78 847.7,1690.59 850.2,1690.38 852.7,1690.18 855.19,1689.97 857.69,1689.75 860.19,1689.52 862.68,1689.29 865.18,1689.06 867.68,1688.81 870.17,1688.56 872.67,1688.3 875.17,1688.03 877.66,1687.76 880.16,1687.47 882.66,1687.18 885.15,1686.88 887.65,1686.56 890.15,1686.24 892.64,1685.91 895.14,1685.56 897.64,1685.21 900.13,1684.84 902.63,1684.46 905.13,1684.07 907.62,1683.67 910.12,1683.25 912.62,1682.82 915.11,1682.38 917.61,1681.92 920.11,1681.45 922.6,1680.97 925.1,1680.47 927.59,1679.95 930.09,1679.42 932.59,1678.88 935.08,1678.32 937.58,1677.74 940.08,1677.14 942.57,1676.53 945.07,1675.9 947.57,1675.25 950.06,1674.58 952.56,1673.9 955.06,1673.19 957.55,1672.47 960.05,1671.73 962.55,1670.96 965.04,1670.18 967.54,1669.38 970.04,1668.55 972.53,1667.71 975.03,1666.84 977.53,1665.95 980.02,1665.04 982.52,1664.11 985.02,1663.15 987.51,1662.17 990.01,1661.17 992.51,1660.14 995,1659.09 997.5,1658.01 1000,1656.91 1002.49,1655.78 1004.99,1654.63 1007.49,1653.45 1009.98,1652.25 1012.48,1651.02 1014.98,1649.76 1017.47,1648.48 1019.97,1647.16 1022.46,1645.82 1024.96,1644.45 1027.46,1643.06 1029.95,1641.63 1032.45,1640.18 1034.95,1638.69 1037.44,1637.18 1039.94,1635.63 1042.44,1634.06 1044.93,1632.45 1047.43,1630.81 1049.93,1629.14 1052.42,1627.44 1054.92,1625.71 1057.42,1623.94 1059.91,1622.14 1062.41,1620.31 1064.91,1618.45 1067.4,1616.55 1069.9,1614.61 1072.4,1612.64 1074.89,1610.64 1077.39,1608.6 1079.89,1606.53 1082.38,1604.42 1084.88,1602.27 1087.38,1600.09 1089.87,1597.87 1092.37,1595.61 1094.87,1593.32 1097.36,1590.99 1099.86,1588.62 1102.36,1586.21 1104.85,1583.76 1107.35,1581.28 1109.85,1578.75 1112.34,1576.18 1114.84,1573.58 1117.34,1570.94 1119.83,1568.26 1122.33,1565.55 1124.82,1562.79 1127.32,1560.01 1129.82,1557.19 1132.31,1554.34 1134.81,1551.45 1137.31,1548.54 1139.8,1545.59 1142.3,1542.61 1144.8,1539.6 1147.29,1536.56 1149.79,1533.5 1152.29,1530.4 1154.78,1527.28 1157.28,1524.13 1159.78,1520.96 1162.27,1517.77 1164.77,1514.54 1167.27,1511.3 1169.76,1508.03 1172.26,1504.74 1174.76,1501.43 1177.25,1498.1 1179.75,1494.75 1182.25,1491.39 1184.74,1488 1187.24,1484.59 1189.74,1481.17 1192.23,1477.73 1194.73,1474.28 1197.23,1470.81 1199.72,1467.33 1202.22,1463.84 1204.72,1460.33 1207.21,1456.81 1209.71,1453.28 1212.21,1449.74 1214.7,1446.19 1217.2,1442.63 1219.69,1439.06 1222.19,1435.47 1224.69,1431.88 1227.18,1428.28 1229.68,1424.67 1232.18,1421.04 1234.67,1417.41 1237.17,1413.76 1239.67,1410.11 1242.16,1406.44 1244.66,1402.76 1247.16,1399.07 1249.65,1395.37 1252.15,1391.66 1254.65,1387.94 1257.14,1384.2 1259.64,1380.46 1262.14,1376.7 1264.63,1372.93 1267.13,1369.15 1269.63,1365.35 1272.12,1361.55 1274.62,1357.73 1277.12,1353.9 1279.61,1350.06 1282.11,1346.21 1284.61,1342.35 1287.1,1338.47 1289.6,1334.58 1292.1,1330.67 1294.59,1326.76 1297.09,1322.83 1299.59,1318.88 1302.08,1314.92 1304.58,1310.95 1307.08,1306.97 1309.57,1302.96 1312.07,1298.95 1314.56,1294.92 1317.06,1290.87 1319.56,1286.81 1322.05,1282.73 1324.55,1278.64 1327.05,1274.53 1329.54,1270.4 1332.04,1266.26 1334.54,1262.1 1337.03,1257.92 1339.53,1253.72 1342.03,1249.51 1344.52,1245.28 1347.02,1241.03 1349.52,1236.75 1352.01,1232.46 1354.51,1228.15 1357.01,1223.81 1359.5,1219.45 1362,1215.07" fill="none" stroke="#ff0000" stroke-width="3.4" stroke-linejoin="round"/>
<line x1="778.9" y1="1842.65" x2="778.9" y2="2279.75" stroke="#000" stroke-width="1.7" stroke-linecap="butt" />
<line x1="1376.4" y1="1842.65" x2="1376.4" y2="2279.75" stroke="#000" stroke-width="1.7" stroke-linecap="butt" />
<line x1="778.05" y1="1843.5" x2="1377.25" y2="1843.5" stroke="#000" stroke-width="1.7" stroke-linecap="butt" />
<line x1="778.05" y1="2278.9" x2="1377.25" y2="2278.9" stroke="#000" stroke-width="1.7" stroke-linecap="butt" />
<line x1="770.4" y1="2278.9" x2="778.9" y2="2278.9" stroke="#000" stroke-width="1.7" stroke-linecap="butt" />
<text x="763.3" y="2284.58" font-size="19.7" font-family='"Liberation Sans", sans-serif' text-anchor="end">0</text>
<line x1="770.4" y1="2191.82" x2="778.9" y2="2191.82" stroke="#000" stroke-width="1.7" stroke-linecap="butt" />
<text x="763.3" y="2197.5" font-size="19.7" font-family='"Liberation Sans", sans-serif' text-anchor="end">50</text>
<line x1="770.4" y1="2104.74" x2="778.9" y2="2104.74" stroke="#000" stroke-width="1.7" stroke-linecap="butt" />
<text x="763.3" y="2110.42" font-size="19.7" font-family='"Liberation Sans", sans-serif' text-anchor="end">100</text>
<line x1="770.4" y1="2017.66" x2="778.9" y2="2017.66" stroke="#000" stroke-width="1.7" stroke-linecap="butt" />
<text x="763.3" y="2023.34" font-size="19.7" font-family='"Liberation Sans", sans-serif' text-anchor="end">150</text>
<line x1="770.4" y1="1930.58" x2="778.9" y2="1930.58" stroke="#000" stroke-width="1.7" stroke-linecap="butt" />
<text x="763.3" y="1936.26" font-size="19.7" font-family='"Liberation Sans", sans-serif' text-anchor="end">200</text>
<line x1="770.4" y1="1843.5" x2="778.9" y2="1843.5" stroke="#000" stroke-width="1.7" stroke-linecap="butt" />
<text x="763.3" y="1849.18" font-size="19.7" font-family='"Liberation Sans", sans-serif' text-anchor="end">250</text>
<line x1="774.4" y1="2235.36" x2="778.9" y2="2235.36" stroke="#000" stroke-width="1.7" stroke-linecap="butt" />
<line x1="774.4" y1="2148.28" x2="778.9" y2="2148.28" stroke="#000" stroke-width="1.7" stroke-linecap="butt" />
<line x1="774.4" y1="2061.2" x2="778.9" y2="2061.2" stroke="#000" stroke-width="1.7" stroke-linecap="butt" />
<line x1="774.4" y1="1974.12" x2="778.9" y2="1974.12" stroke="#000" stroke-width="1.7" stroke-linecap="butt" />
<line x1="774.4" y1="1887.04" x2="778.9" y2="1887.04" stroke="#000" stroke-width="1.7" stroke-linecap="butt" />
<line x1="1003.7" y1="2278.9" x2="1003.7" y2="2287.4" stroke="#000" stroke-width="1.7" stroke-linecap="butt" />
<text x="1003.7" y="2307.3" font-size="19.7" font-family='"Liberation Sans", sans-serif' text-anchor="middle">3,5</text>
<line x1="1376.4" y1="2278.9" x2="1376.4" y2="2287.4" stroke="#000" stroke-width="1.7" stroke-linecap="butt" />
<text x="1376.4" y="2307.3" font-size="19.7" font-family='"Liberation Sans", sans-serif' text-anchor="middle">4,0</text>
<line x1="817.35" y1="2278.9" x2="817.35" y2="2283.4" stroke="#000" stroke-width="1.7" stroke-linecap="butt" />
<line x1="1190.05" y1="2278.9" x2="1190.05" y2="2283.4" stroke="#000" stroke-width="1.7" stroke-linecap="butt" />
<text x="1078.4" y="2344" font-size="24" font-family='"Liberation Serif", serif' text-anchor="middle" font-weight="bold" textLength="129.44" lengthAdjust="spacingAndGlyphs" >Energy (eV)</text>
<text font-size="22" font-family='"Liberation Serif", serif' font-weight="bold" text-anchor="middle" transform="translate(719 2061.55) rotate(-90) scale(1.0700 1)">(<tspan font-style="italic">&#945;</tspan>hv)<tspan font-size="13.64" dy="-9.9">2</tspan></text>
<text x="784" y="2134.8" font-size="23" font-family='"Liberation Serif", serif' text-anchor="start" font-weight="bold" textLength="288.88" lengthAdjust="spacingAndGlyphs" >Bandgap energy Eg=3,2 eV</text>
<text x="1255.5" y="1881.43" font-size="37.24" font-family='"Liberation Serif", serif' text-anchor="start" font-weight="bold" textLength="74.9" lengthAdjust="spacingAndGlyphs" >(d2)</text>
<line x1="773.9" y1="2284.4" x2="903" y2="2251.5" stroke="#000" stroke-width="2.2" stroke-dasharray="12.8 11.4"/>
<polyline points="779.7,2270.91 782.19,2270.75 784.69,2270.59 787.18,2270.42 789.67,2270.25 792.17,2270.08 794.66,2269.89 797.15,2269.71 799.65,2269.52 802.14,2269.32 804.63,2269.11 807.13,2268.9 809.62,2268.68 812.11,2268.45 814.61,2268.21 817.1,2267.97 819.59,2267.71 822.09,2267.44 824.58,2267.16 827.07,2266.88 829.57,2266.58 832.06,2266.26 834.55,2265.94 837.05,2265.6 839.54,2265.25 842.03,2264.88 844.53,2264.5 847.02,2264.1 849.51,2263.69 852.01,2263.26 854.5,2262.82 856.99,2262.36 859.49,2261.88 861.98,2261.38 864.47,2260.87 866.97,2260.33 869.46,2259.78 871.95,2259.2 874.45,2258.61 876.94,2257.99 879.43,2257.36 881.93,2256.7 884.42,2256.02 886.91,2255.31 889.41,2254.59 891.9,2253.84 894.39,2253.06 896.89,2252.26 899.38,2251.44 901.87,2250.59 904.37,2249.71 906.86,2248.81 909.35,2247.88 911.85,2246.94 914.34,2245.96 916.83,2244.97 919.33,2243.95 921.82,2242.91 924.31,2241.85 926.81,2240.77 929.3,2239.67 931.79,2238.54 934.28,2237.4 936.78,2236.24 939.27,2235.06 941.76,2233.86 944.26,2232.65 946.75,2231.41 949.24,2230.16 951.74,2228.9 954.23,2227.62 956.72,2226.32 959.22,2225.01 961.71,2223.68 964.2,2222.34 966.7,2220.98 969.19,2219.62 971.68,2218.24 974.18,2216.84 976.67,2215.43 979.16,2214.01 981.66,2212.57 984.15,2211.11 986.64,2209.64 989.14,2208.16 991.63,2206.66 994.12,2205.15 996.62,2203.62 999.11,2202.07 1001.6,2200.51 1004.1,2198.93 1006.59,2197.33 1009.08,2195.72 1011.58,2194.09 1014.07,2192.44 1016.56,2190.78 1019.06,2189.1 1021.55,2187.4 1024.04,2185.68 1026.54,2183.95 1029.03,2182.19 1031.52,2180.42 1034.02,2178.63 1036.51,2176.82 1039,2174.99 1041.5,2173.14 1043.99,2171.27 1046.48,2169.38 1048.98,2167.48 1051.47,2165.55 1053.96,2163.6 1056.46,2161.63 1058.95,2159.64 1061.44,2157.63 1063.94,2155.6 1066.43,2153.55 1068.92,2151.48 1071.42,2149.38 1073.91,2147.27 1076.4,2145.14 1078.9,2142.99 1081.39,2140.83 1083.88,2138.64 1086.38,2136.44 1088.87,2134.22 1091.36,2131.99 1093.86,2129.74 1096.35,2127.48 1098.84,2125.2 1101.34,2122.91 1103.83,2120.61 1106.32,2118.29 1108.82,2115.96 1111.31,2113.62 1113.8,2111.26 1116.3,2108.9 1118.79,2106.52 1121.28,2104.14 1123.78,2101.75 1126.27,2099.34 1128.76,2096.93 1131.26,2094.51 1133.75,2092.09 1136.24,2089.66 1138.74,2087.22 1141.23,2084.77 1143.72,2082.32 1146.22,2079.86 1148.71,2077.4 1151.2,2074.94 1153.7,2072.47 1156.19,2070 1158.68,2067.53 1161.18,2065.05 1163.67,2062.58 1166.16,2060.1 1168.66,2057.62 1171.15,2055.15 1173.64,2052.67 1176.14,2050.19 1178.63,2047.72 1181.12,2045.25 1183.62,2042.78 1186.11,2040.31 1188.6,2037.85 1191.1,2035.39 1193.59,2032.94 1196.08,2030.49 1198.58,2028.04 1201.07,2025.6 1203.56,2023.17 1206.06,2020.75 1208.55,2018.33 1211.04,2015.92 1213.54,2013.52 1216.03,2011.13 1218.52,2008.75 1221.02,2006.37 1223.51,2004 1226,2001.65 1228.49,1999.3 1230.99,1996.95 1233.48,1994.62 1235.97,1992.29 1238.47,1989.98 1240.96,1987.67 1243.45,1985.37 1245.95,1983.08 1248.44,1980.8 1250.93,1978.52 1253.43,1976.26 1255.92,1974 1258.41,1971.75 1260.91,1969.51 1263.4,1967.28 1265.89,1965.06 1268.39,1962.85 1270.88,1960.64 1273.37,1958.45 1275.87,1956.26 1278.36,1954.08 1280.85,1951.91 1283.35,1949.75 1285.84,1947.6 1288.33,1945.45 1290.83,1943.32 1293.32,1941.19 1295.81,1939.07 1298.31,1936.96 1300.8,1934.86 1303.29,1932.77 1305.79,1930.69 1308.28,1928.61 1310.77,1926.54 1313.27,1924.48 1315.76,1922.42 1318.25,1920.36 1320.75,1918.3 1323.24,1916.25 1325.73,1914.19 1328.23,1912.14 1330.72,1910.08 1333.21,1908.02 1335.71,1905.96 1338.2,1903.89 1340.69,1901.82 1343.19,1899.74 1345.68,1897.66 1348.17,1895.57 1350.67,1893.46 1353.16,1891.35 1355.65,1889.23 1358.15,1887.1 1360.64,1884.95 1363.13,1882.79 1365.63,1880.61 1368.12,1878.42 1370.61,1876.22 1373.11,1873.99 1375.6,1871.75" fill="none" stroke="#000" stroke-width="3.6" stroke-linejoin="round"/>
</svg>
</body></html>
